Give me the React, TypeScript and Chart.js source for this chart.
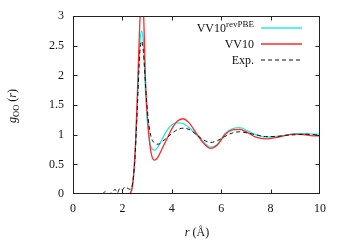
import React, { useEffect, useRef } from "react";
import { Chart, registerables } from "chart.js";

Chart.register(...registerables);

const xTicks = [0, 2, 4, 6, 8, 10];
const yTicks = [0, 0.5, 1, 1.5, 2, 2.5, 3];

const dftR = [2.3, 2.4, 2.5, 2.6, 2.7, 2.78, 2.85, 2.95, 3.05, 3.15, 3.3, 3.45, 3.6, 3.8, 4.0, 4.2, 4.45, 4.7, 5.0, 5.3, 5.57, 5.85, 6.15, 6.45, 6.75, 7.05, 7.4, 7.8, 8.2, 8.6, 9.0, 9.4, 9.8, 10.0];
const vv10RevPBE = [0, 0.1, 0.55, 1.5, 2.5, 2.75, 2.55, 1.6, 1.05, 0.8, 0.74, 0.8, 0.92, 1.07, 1.17, 1.2, 1.19, 1.12, 1.0, 0.87, 0.79, 0.84, 1.02, 1.1, 1.12, 1.07, 1.0, 0.96, 0.97, 0.99, 1.02, 1.02, 1.01, 1.01];
const vv10 = [0, 0.12, 0.6, 1.6, 2.85, 3.3, 3.1, 1.75, 1.1, 0.72, 0.57, 0.63, 0.76, 0.93, 1.1, 1.22, 1.27, 1.2, 1.02, 0.85, 0.77, 0.83, 1.0, 1.08, 1.09, 1.04, 0.96, 0.93, 0.95, 0.99, 1.01, 1.0, 0.98, 0.98];

const expR = [1.2, 1.3, 1.4, 1.6, 1.7, 1.8, 1.9, 2.0, 2.1, 2.2, 2.3, 2.4, 2.5, 2.6, 2.7, 2.78, 2.85, 2.95, 3.05, 3.15, 3.3, 3.45, 3.6, 3.8, 4.0, 4.2, 4.45, 4.7, 5.0, 5.3, 5.57, 5.85, 6.15, 6.45, 6.75, 7.05, 7.4, 7.8, 8.2, 8.6, 9.0, 9.4, 9.8, 10.0];
const expG = [0, 0.04, 0.0, 0.03, 0.08, 0.02, 0.1, 0.07, 0.12, 0.1, 0.08, 0.15, 0.55, 1.4, 2.35, 2.58, 2.4, 1.75, 1.25, 0.98, 0.86, 0.84, 0.88, 0.95, 1.02, 1.08, 1.11, 1.09, 1.0, 0.91, 0.87, 0.9, 0.97, 1.03, 1.05, 1.03, 1.0, 0.97, 0.97, 0.99, 1.0, 1.01, 1.0, 1.0];

const CYAN = "#2ce6ea";
const RED = "#ff2a2a";
const FONT = "'Liberation Serif', 'Times New Roman', serif";

const toPts = (xs: number[], ys: number[]) => xs.map((x, i) => ({ x, y: ys[i] }));

const framePlugin = {
  id: "frame",
  afterDraw(chart: any) {
    const { ctx, chartArea: a, scales } = chart;
    const xs = scales.x, ys = scales.y;
    ctx.save();
    ctx.strokeStyle = "#222";
    ctx.lineWidth = 1;
    const L = Math.round(a.left) + 0.5, R = Math.round(a.right) - 0.5;
    const T = Math.round(a.top) + 0.5, B = Math.round(a.bottom) - 0.5;
    ctx.strokeRect(L, T, R - L, B - T);
    const tl = 4;
    ctx.beginPath();
    xTicks.forEach((v) => {
      const px = Math.round(xs.getPixelForValue(v)) + 0.5;
      if (v === xTicks[0] || v === xTicks[xTicks.length - 1]) return;
      ctx.moveTo(px, B); ctx.lineTo(px, B - tl);
      ctx.moveTo(px, T); ctx.lineTo(px, T + tl);
    });
    yTicks.forEach((v) => {
      const py = Math.round(ys.getPixelForValue(v)) + 0.5;
      if (v === yTicks[0] || v === yTicks[yTicks.length - 1]) return;
      ctx.moveTo(L, py); ctx.lineTo(L + tl, py);
      ctx.moveTo(R, py); ctx.lineTo(R - tl, py);
    });
    ctx.stroke();

    // legend
    ctx.fillStyle = "#111";
    ctx.textBaseline = "alphabetic";
    const tx = 254, sx0 = 261, sx1 = 302;
    const rows = [
      { y: 32, main: "VV10", sup: "revPBE", color: CYAN, dash: [] as number[] },
      { y: 48, main: "VV10", sup: "", color: RED, dash: [] as number[] },
      { y: 64, main: "Exp.", sup: "", color: "#111", dash: [4, 3] },
    ];
    rows.forEach((r) => {
      let x = tx;
      if (r.sup) {
        ctx.font = `9px ${FONT}`;
        const w = ctx.measureText(r.sup).width;
        ctx.textAlign = "left";
        ctx.fillText(r.sup, x - w, r.y - 5);
        x -= w;
      }
      ctx.font = `12px ${FONT}`;
      ctx.textAlign = "right";
      ctx.fillText(r.main, x, r.y);
      ctx.beginPath();
      ctx.strokeStyle = r.color;
      ctx.lineWidth = r.dash.length ? 1 : 1.4;
      ctx.setLineDash(r.dash);
      ctx.moveTo(sx0, r.y - 4);
      ctx.lineTo(sx1, r.y - 4);
      ctx.stroke();
      ctx.setLineDash([]);
    });

    // x title: r (Å)
    ctx.fillStyle = "#111";
    ctx.textAlign = "left";
    ctx.font = `italic 12px ${FONT}`;
    const wr = ctx.measureText("r").width;
    ctx.font = `12px ${FONT}`;
    const rest = " (Å)";
    const wrest = ctx.measureText(rest).width;
    const xx = 197 - (wr + wrest) / 2;
    ctx.font = `italic 12px ${FONT}`;
    ctx.fillText("r", xx, 236);
    ctx.font = `12px ${FONT}`;
    ctx.fillText(rest, xx + wr, 236);

    // y title: g_OO (r)
    ctx.save();
    ctx.translate(16, 106);
    ctx.rotate(-Math.PI / 2);
    ctx.font = `italic 12px ${FONT}`;
    const wg = ctx.measureText("g").width;
    ctx.font = `8.5px ${FONT}`;
    const woo = ctx.measureText("OO").width;
    ctx.font = `12px ${FONT}`;
    const wp1 = ctx.measureText(" (").width;
    ctx.font = `italic 12px ${FONT}`;
    const wr2 = ctx.measureText("r").width;
    ctx.font = `12px ${FONT}`;
    const wp2 = ctx.measureText(")").width;
    const total = wg + woo + wp1 + wr2 + wp2;
    let cx = -total / 2;
    ctx.font = `italic 12px ${FONT}`;
    ctx.fillText("g", cx, 0); cx += wg;
    ctx.font = `8.5px ${FONT}`;
    ctx.fillText("OO", cx, 2.5); cx += woo;
    ctx.font = `12px ${FONT}`;
    ctx.fillText(" (", cx, 0); cx += wp1;
    ctx.font = `italic 12px ${FONT}`;
    ctx.fillText("r", cx, 0); cx += wr2;
    ctx.font = `12px ${FONT}`;
    ctx.fillText(")", cx, 0);
    ctx.restore();

    ctx.restore();
  },
};

export default function App() {
  const ref = useRef<HTMLCanvasElement | null>(null);
  useEffect(() => {
    document.body.style.margin = "0";
    if (!ref.current) return;
    const chart = new Chart(ref.current, {
      type: "line",
      data: {
        datasets: [
          {
            label: "Exp.",
            data: toPts(expR, expG),
            borderColor: "#111",
            borderWidth: 1,
            borderDash: [4, 3],
            pointRadius: 0,
            cubicInterpolationMode: "monotone",
            order: 0,
          },
          {
            label: "VV10",
            data: toPts(dftR, vv10),
            borderColor: RED,
            borderWidth: 1.3,
            pointRadius: 0,
            cubicInterpolationMode: "monotone",
            order: 1,
          },
          {
            label: "VV10revPBE",
            data: toPts(dftR, vv10RevPBE),
            borderColor: CYAN,
            borderWidth: 1.3,
            pointRadius: 0,
            cubicInterpolationMode: "monotone",
            order: 2,
          },
        ],
      },
      options: {
        animation: false,
        responsive: false,
        parsing: false as any,
        layout: { padding: { left: 0, right: 30, top: 16, bottom: 0 } },
        plugins: { legend: { display: false }, tooltip: { enabled: false } },
        scales: {
          x: {
            type: "linear",
            min: 0,
            max: 10,
            afterFit: (s: any) => { s.height = 51; },
            afterBuildTicks: (s: any) => { s.ticks = xTicks.map((v) => ({ value: v })); },
            grid: { display: false, drawTicks: false },
            border: { display: false },
            ticks: { padding: 8, color: "#111", font: { family: FONT, size: 12 }, callback: (v: any) => String(v) },
          },
          y: {
            type: "linear",
            min: 0,
            max: 3,
            afterFit: (s: any) => { s.width = 73; },
            afterBuildTicks: (s: any) => { s.ticks = yTicks.map((v) => ({ value: v })); },
            grid: { display: false, drawTicks: false },
            border: { display: false },
            ticks: { padding: 9, color: "#111", font: { family: FONT, size: 12 }, callback: (v: any) => String(v) },
          },
        },
      },
      plugins: [framePlugin],
    });
    return () => chart.destroy();
  }, []);
  return <canvas ref={ref} width={350} height={245} style={{ display: "block", width: 350, height: 245 }} />;
}
